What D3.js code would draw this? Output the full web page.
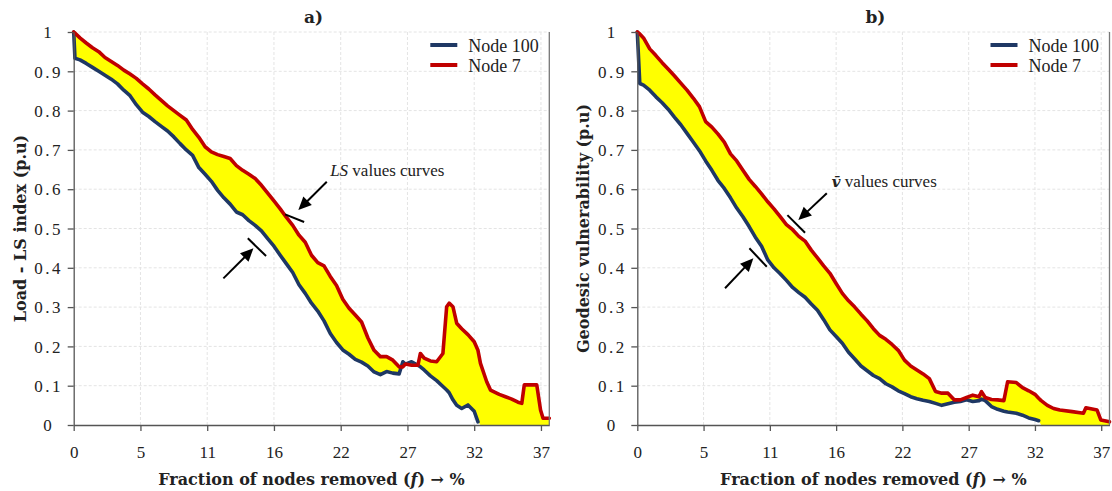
<!DOCTYPE html>
<html>
<head>
<meta charset="utf-8">
<script src="https://cdn.jsdelivr.net/npm/d3@7"></script>
<style>
  body { margin: 0; background: #fff; }
  text { font-family: "Liberation Serif", serif; fill: #222; }
  .bold { font-family: "DejaVu Serif", serif; font-weight: bold; }
</style>
</head>
<body>
<svg id="chart" width="1112" height="491"></svg>
<script>
// ---- data ----
// a) Load - LS index
const fracA = [0, 0.1, 0.5, 1, 1.5, 2, 2.5, 3, 3.5, 4, 4.5, 5, 5.5, 6, 6.5, 7, 7.5, 8, 8.5, 9, 9.5,
  10, 10.5, 11, 11.5, 12, 12.5, 13, 13.5, 14, 14.5, 15, 15.5, 16, 16.5, 17, 17.5, 18, 18.5, 19, 19.5,
  20, 20.5, 21, 21.5, 22, 22.5, 23, 23.5, 24, 24.5, 25, 25.5, 26, 26.3, 26.5, 27, 27.5, 27.7, 28, 28.5,
  29, 29.5, 29.8, 30, 30.3, 30.6, 31, 31.5, 32, 32.3, 32.5, 33, 33.3, 34, 34.5, 35, 35.5, 35.8, 36, 37,
  37.3, 37.5, 38];
const lsNode7 = [1.0, 0.997, 0.985, 0.972, 0.96, 0.95, 0.935, 0.925, 0.915, 0.903, 0.893, 0.882, 0.868,
  0.855, 0.84, 0.826, 0.812, 0.80, 0.788, 0.776, 0.752, 0.732, 0.708, 0.695, 0.688, 0.683, 0.678, 0.66,
  0.648, 0.638, 0.627, 0.61, 0.59, 0.57, 0.55, 0.528, 0.508, 0.483, 0.465, 0.432, 0.413, 0.405, 0.378,
  0.355, 0.32, 0.297, 0.28, 0.262, 0.222, 0.19, 0.174, 0.174, 0.165, 0.148, 0.148, 0.155, 0.152, 0.152,
  0.182, 0.17, 0.163, 0.161, 0.182, 0.301, 0.31, 0.301, 0.259, 0.245, 0.23, 0.212, 0.19, 0.157, 0.11,
  0.089, 0.078, 0.072, 0.066, 0.058, 0.055, 0.102, 0.102, 0.038, 0.017, 0.017];
const lsNode100 = [1.0, 0.933, 0.929, 0.92, 0.91, 0.90, 0.89, 0.88, 0.868, 0.852, 0.838, 0.815, 0.796,
  0.785, 0.772, 0.76, 0.748, 0.733, 0.716, 0.70, 0.686, 0.655, 0.638, 0.62, 0.597, 0.578, 0.562, 0.542,
  0.535, 0.52, 0.508, 0.494, 0.474, 0.455, 0.432, 0.41, 0.388, 0.357, 0.335, 0.31, 0.29, 0.265, 0.233,
  0.21, 0.191, 0.18, 0.167, 0.16, 0.15, 0.135, 0.128, 0.136, 0.132, 0.13, 0.161, 0.155, 0.161, 0.152,
  0.148, 0.14, 0.125, 0.113, 0.098, 0.089, 0.082, 0.064, 0.05, 0.042, 0.051, 0.035, 0.008,
  null, null, null, null, null, null, null, null, null, null, null, null, null];

// b) Geodesic vulnerability
const fracB = [0, 0.2, 0.5, 1, 1.5, 2, 2.5, 3, 3.5, 4, 4.5, 5, 5.5, 6, 6.5, 7, 7.5, 8, 8.5, 9, 9.5,
  10, 10.5, 11, 11.5, 12, 12.5, 13, 13.5, 14, 14.5, 15, 15.5, 16, 16.5, 17, 17.5, 18, 18.5, 19, 19.5,
  20, 20.5, 21, 21.5, 22, 22.5, 23, 23.5, 24, 24.5, 25, 25.5, 26, 26.5, 27, 27.5, 27.7, 28, 28.5, 29,
  29.5, 29.8, 30.5, 31, 31.5, 32, 32.3, 32.5, 33, 33.5, 34, 35, 35.9, 36.1, 37, 37.3, 38];
const vNode7 = [1.0, 0.995, 0.985, 0.957, 0.94, 0.922, 0.905, 0.888, 0.87, 0.852, 0.832, 0.81, 0.772,
  0.758, 0.74, 0.72, 0.69, 0.672, 0.648, 0.625, 0.607, 0.588, 0.568, 0.55, 0.53, 0.51, 0.497, 0.48,
  0.468, 0.445, 0.425, 0.405, 0.386, 0.36, 0.335, 0.316, 0.30, 0.282, 0.265, 0.245, 0.228, 0.218, 0.205,
  0.19, 0.165, 0.15, 0.14, 0.13, 0.118, 0.085, 0.081, 0.081, 0.064, 0.064, 0.07, 0.076, 0.072, 0.085,
  0.07, 0.065, 0.064, 0.062, 0.11, 0.108, 0.095, 0.087, 0.078, 0.068, 0.062, 0.05, 0.042, 0.038, 0.034,
  0.030, 0.044, 0.038, 0.013, 0.008];
const vNode100 = [1.0, 0.869, 0.865, 0.852, 0.835, 0.82, 0.803, 0.783, 0.764, 0.742, 0.72, 0.698, 0.672,
  0.648, 0.622, 0.602, 0.578, 0.552, 0.53, 0.505, 0.478, 0.455, 0.42, 0.40, 0.385, 0.368, 0.35, 0.337,
  0.325, 0.308, 0.292, 0.268, 0.242, 0.225, 0.208, 0.185, 0.168, 0.15, 0.138, 0.126, 0.118, 0.105, 0.097,
  0.087, 0.08, 0.072, 0.067, 0.063, 0.06, 0.055, 0.05, 0.054, 0.058, 0.06, 0.064, 0.06, 0.062, 0.066,
  0.062, 0.047, 0.04, 0.035, 0.033, 0.03, 0.025, 0.018, 0.014, 0.011,
  null, null, null, null, null, null, null, null, null, null];

const xTickValues = [0, 5.333, 10.667, 16, 21.333, 26.667, 32, 37.333];
const xTickLabels = ["0", "5", "11", "16", "22", "27", "32", "37"];
const yTickValues = [0, 0.1, 0.2, 0.3, 0.4, 0.5, 0.6, 0.7, 0.8, 0.9, 1];
const yTickLabels = ["0", "0.1", "0.2", "0.3", "0.4", "0.5", "0.6", "0.7", "0.8", "0.9", "1"];
const seriesNames = ["Node 100", "Node 7"];
const seriesColors = ["#1f3864", "#c00000"];

const svg = d3.select("#chart");

// arrow with a filled head, given in data units
function arrow(g, x, y, a) {
  const x1 = x(a.from[0]), y1 = y(a.from[1]), x2 = x(a.to[0]), y2 = y(a.to[1]);
  const len = Math.hypot(x2 - x1, y2 - y1), ux = (x2 - x1) / len, uy = (y2 - y1) / len;
  const hl = 13, hw = 6;
  g.append("line")
    .attr("x1", x1).attr("y1", y1)
    .attr("x2", x2 - ux * hl * 0.8).attr("y2", y2 - uy * hl * 0.8)
    .attr("stroke", "#000").attr("stroke-width", 2);
  g.append("path")
    .attr("d", d3.line()([
      [x2, y2],
      [x2 - ux * hl - uy * hw, y2 - uy * hl + ux * hw],
      [x2 - ux * hl + uy * hw, y2 - uy * hl - ux * hw]
    ]) + "Z")
    .attr("fill", "#000");
}

function drawPanel(p) {
  const x = d3.scaleLinear().domain([0, 38]).range([p.left, p.right]);
  const y = d3.scaleLinear().domain([0, 1]).range([p.bottom, p.top]);
  const g = svg.append("g");

  // grid
  g.append("g").selectAll("line").data(xTickValues.slice(1)).join("line")
    .attr("x1", d => x(d)).attr("x2", d => x(d)).attr("y1", y(0)).attr("y2", y(1))
    .attr("stroke", "#e4e4e4").attr("stroke-dasharray", "3,2");
  g.append("g").selectAll("line").data(yTickValues.slice(1)).join("line")
    .attr("x1", x(0)).attr("x2", x(38)).attr("y1", d => y(d)).attr("y2", d => y(d))
    .attr("stroke", "#e4e4e4").attr("stroke-dasharray", "3,2");

  const rows = p.frac.map((f, i) => ({ f: f, hi: p.upper[i], lo: p.lower[i] }));

  // band between the two curves
  g.append("path").datum(rows)
    .attr("fill", "#ffff00")
    .attr("d", d3.area()
      .x(d => x(d.f))
      .y0(d => y(d.lo == null ? 0 : d.lo))
      .y1(d => y(d.hi)));

  // curves: Node 100 first, Node 7 on top
  [["lo", 0], ["hi", 1]].forEach(([k, i]) => {
    g.append("path").datum(rows)
      .attr("fill", "none")
      .attr("stroke", seriesColors[i])
      .attr("stroke-width", 3.6)
      .attr("stroke-linejoin", "round")
      .attr("stroke-linecap", "round")
      .attr("d", d3.line().defined(d => d[k] != null).x(d => x(d.f)).y(d => y(d[k])));
  });

  // axes
  const ya = g.append("g").attr("transform", "translate(" + x(0) + ",0)")
    .call(d3.axisLeft(y).tickValues(yTickValues).tickFormat((d, i) => yTickLabels[i]).tickSize(6).tickSizeOuter(0));
  ya.select(".domain").attr("stroke", "#555").attr("stroke-width", 1.3);
  ya.selectAll(".tick line").attr("stroke", "#555").attr("stroke-width", 1.3);
  ya.selectAll(".tick text")
    .attr("x", -25).attr("dy", "0.34em")
    .attr("text-anchor", "middle")
    .style("font-family", "Liberation Serif").style("font-size", "17px")
    .style("letter-spacing", "2.5px").attr("fill", "#333");

  const xa = g.append("g").attr("transform", "translate(0," + y(0) + ")")
    .call(d3.axisBottom(x).tickValues(xTickValues).tickFormat((d, i) => xTickLabels[i]).tickSize(6).tickSizeOuter(0));
  xa.select(".domain").attr("stroke", "#555").attr("stroke-width", 1.3);
  xa.selectAll(".tick line").attr("stroke", "#555").attr("stroke-width", 1.3);
  xa.selectAll(".tick text")
    .attr("y", 33).attr("dy", 0)
    .style("font-family", "Liberation Serif").style("font-size", "17px").attr("fill", "#333");

  // right frame line
  g.append("line")
    .attr("x1", x(38)).attr("x2", x(38)).attr("y1", y(0)).attr("y2", y(1))
    .attr("stroke", "#777").attr("stroke-width", 1.3);

  // titles
  g.append("text").attr("class", "bold")
    .attr("x", (p.left + p.right) / 2 + 2).attr("y", 23)
    .attr("text-anchor", "middle").style("font-size", "17px")
    .text(p.title);

  const xt = g.append("text").attr("class", "bold")
    .attr("x", (p.left + p.right) / 2).attr("y", 485)
    .attr("text-anchor", "middle").style("font-size", "16px");
  xt.append("tspan").text("Fraction of nodes removed (");
  xt.append("tspan").style("font-style", "italic").text("f");
  xt.append("tspan").text(") → %");

  g.append("text").attr("class", "bold")
    .attr("transform", "translate(" + (x(0) - 48) + "," + ((p.top + p.bottom) / 2) + ") rotate(-90)")
    .attr("text-anchor", "middle").style("font-size", "16px")
    .text(p.yLabel);

  // legend
  seriesNames.forEach((name, i) => {
    const ly = p.top + 13 + i * 20;
    g.append("line")
      .attr("x1", p.right - 119).attr("x2", p.right - 92)
      .attr("y1", ly).attr("y2", ly)
      .attr("stroke", seriesColors[i]).attr("stroke-width", 4);
    g.append("text")
      .attr("x", p.right - 81).attr("y", ly + 6.5)
      .style("font-size", "18px")
      .text(name);
  });

  // annotation
  const nt = g.append("text")
    .attr("x", x(p.note.at[0])).attr("y", y(p.note.at[1]))
    .style("font-size", "17px");
  const sym = nt.append("tspan").style("font-style", "italic").text(p.note.sym);
  if (p.note.bold) sym.style("font-family", "DejaVu Serif").style("font-weight", "bold").style("font-size", "15px");
  nt.append("tspan").text("\u00a0values curves");

  p.note.bars.forEach(b => {
    g.append("line")
      .attr("x1", x(b[0][0])).attr("y1", y(b[0][1]))
      .attr("x2", x(b[1][0])).attr("y2", y(b[1][1]))
      .attr("stroke", "#000").attr("stroke-width", 2);
  });
  p.note.arrows.forEach(a => arrow(g, x, y, a));
}

drawPanel({
  left: 73.7, right: 549.3, top: 32, bottom: 425,
  frac: fracA, upper: lsNode7, lower: lsNode100,
  title: "a)", yLabel: "Load - LS index (p.u)",
  note: {
    sym: "LS", bold: false, at: [20.49, 0.634],
    bars: [[[16.89, 0.536], [18.41, 0.5165]], [[13.91, 0.475], [15.37, 0.430]]],
    arrows: [{ from: [20.22, 0.619], to: [17.95, 0.547] }, { from: [11.96, 0.373], to: [14.36, 0.4496] }]
  }
});

drawPanel({
  left: 637.3, right: 1109.5, top: 32, bottom: 425,
  frac: fracB, upper: vNode7, lower: vNode100,
  title: "b)", yLabel: "Geodesic vulnerability (p.u)",
  note: {
    sym: "v\u0304", bold: true, at: [15.65, 0.606],
    bars: [[[12.08, 0.534], [13.50, 0.489]], [[9.02, 0.4496], [10.42, 0.4028]]],
    arrows: [{ from: [15.25, 0.5896], to: [12.96, 0.5216] }, { from: [7.06, 0.348], to: [9.34, 0.424] }]
  }
});
</script>
</body>
</html>
